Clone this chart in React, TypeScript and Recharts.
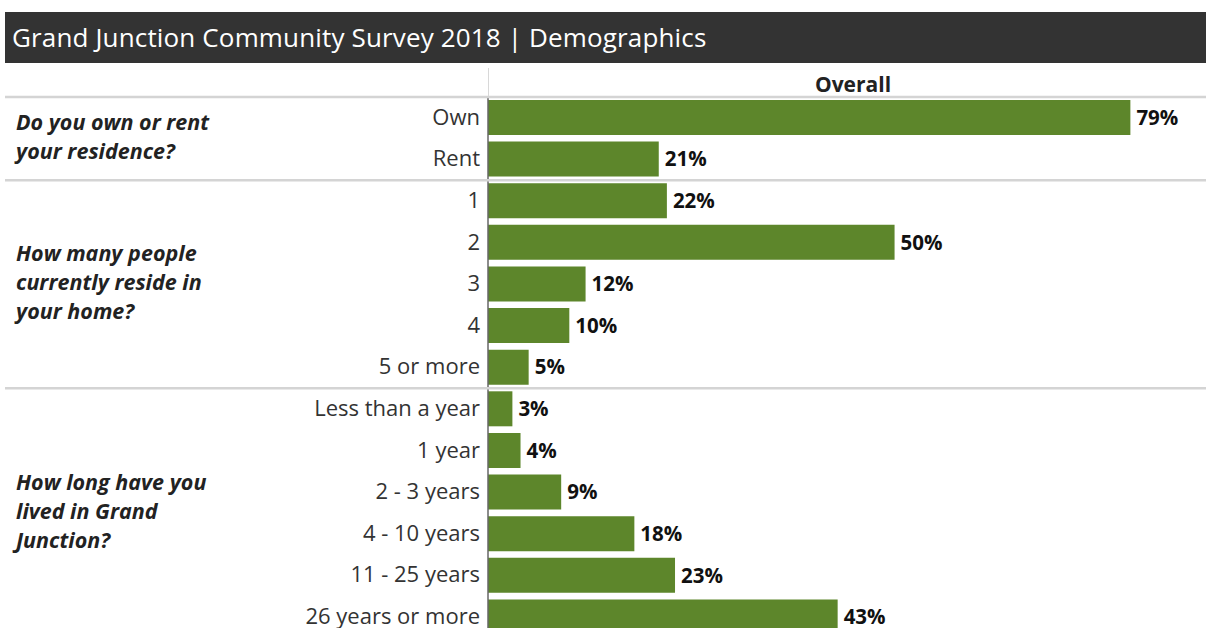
import { BarChart, Bar, XAxis, YAxis, LabelList } from 'recharts';

const categories = [
  'Own', 'Rent',
  '1', '2', '3', '4', '5 or more',
  'Less than a year', '1 year', '2 - 3 years', '4 - 10 years', '11 - 25 years', '26 years or more',
];
const values = [79, 21, 22, 50, 12, 10, 5, 3, 4, 9, 18, 23, 43];
const groupSizes = [2, 5, 6];
const questions = [
  ['Do you own or rent', 'your residence?'],
  ['How many people', 'currently reside in', 'your home?'],
  ['How long have you', 'lived in Grand', 'Junction?'],
];

const data = categories.map((name, i) => ({ name, value: values[i] }));

const FONT = '"Open Sans", "Noto Sans", sans-serif';
const BAR = '#5d862b';

// index of first row in each group
const groupStarts = groupSizes.map((_, g) => groupSizes.slice(0, g).reduce((a, b) => a + b, 0));

function CategoryTick(props: any) {
  const { y, payload } = props;
  const idx = payload.index;
  const half = payload.offset ?? 20.75;
  const g = groupStarts.indexOf(idx);
  return (
    <g>
      {g >= 0 && (
        <>
          <line x1={5} x2={1206} y1={y - half} y2={y - half} stroke="#d4d4d4" strokeWidth={2.5} />
          <text
            x={16}
            y={y - half + groupSizes[g] * half - ((questions[g].length - 1) * 29) / 2}
            fontFamily={FONT}
            fontSize={21.5}
            fontWeight="bold"
            fontStyle="italic"
            fill="#222"
            dominantBaseline="middle"
          >
            {questions[g].map((line, k) => (
              <tspan key={k} x={16} dy={k === 0 ? 0 : 29}>{line}</tspan>
            ))}
          </text>
        </>
      )}
      <text x={480} y={y + 1} textAnchor="end" dominantBaseline="middle" fontFamily={FONT} fontSize={22} fill="#333">
        {payload.value}
      </text>
    </g>
  );
}

export default function App() {
  return (
    <div style={{ position: 'fixed', left: 0, top: 0, width: 1206, height: 628, overflow: 'hidden', background: '#fff' }}>
      <div
        style={{
          position: 'absolute', left: 5, top: 12, width: 1201, height: 51, background: '#333333',
          color: '#fff', fontFamily: FONT, fontSize: 26, fontWeight: 500, lineHeight: '51px', paddingLeft: 7,
          boxSizing: 'border-box', letterSpacing: 0.15,
        }}
      >
        Grand Junction Community Survey 2018 | Demographics
      </div>
      <div style={{ position: 'absolute', left: 488, top: 68, width: 1, height: 30, background: '#d8d8d8' }} />
      <div
        style={{
          position: 'absolute', left: 488, top: 70, width: 730, textAlign: 'center', fontFamily: FONT,
          fontWeight: 'bold', fontSize: 21, color: '#222', lineHeight: '28px',
        }}
      >
        Overall
      </div>
      <div style={{ position: 'absolute', left: 0, top: 0 }}>
        <BarChart
          width={1206}
          height={638}
          data={data}
          layout="vertical"
          margin={{ top: 97, right: 0, bottom: 0, left: 0 }}
          barSize={35}
        >
          <XAxis type="number" domain={[0, 88.3]} hide />
          <YAxis
            type="category"
            dataKey="name"
            width={488}
            tick={<CategoryTick />}
            tickLine={false}
            axisLine={{ stroke: '#666', strokeWidth: 1.5 }}
            interval={0}
          />
          <Bar dataKey="value" fill={BAR} isAnimationActive={false}>
            <LabelList
              dataKey="value"
              position="right"
              offset={6}
              formatter={(v: any) => `${v}%`}
              fill="#111"
              fontFamily={FONT}
              fontWeight="bold"
              fontSize={20.5}
            />
          </Bar>
        </BarChart>
      </div>
    </div>
  );
}
